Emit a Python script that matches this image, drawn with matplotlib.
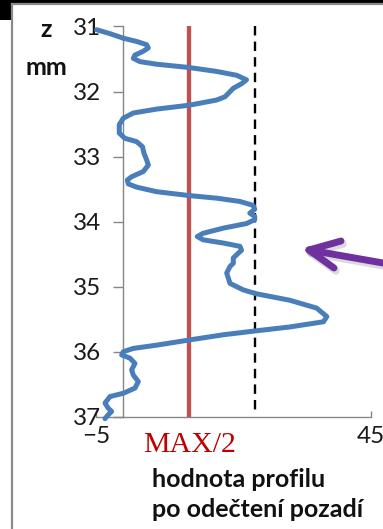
import matplotlib
matplotlib.use("Agg")
import matplotlib.pyplot as plt
from matplotlib.lines import Line2D
from matplotlib.patches import Rectangle
from matplotlib.transforms import blended_transform_factory

plt.rcParams['font.family'] = ['Lato', 'DejaVu Sans']

# profile after background subtraction, sampled along z (mm)
profile = [-4.85, -2.42, 0.0, 2.42, 4.24, 4.55, 3.64, 2.12, 1.82, 3.03, 6.06,
           11.9, 16.9, 20.6, 22.4, 21.5, 20.0, 18.5, 17.0, 13.9, 12.0, 6.06,
           1.82, 0.0, -0.73, -0.73, 0.3, 2.42, 3.5, 3.76, 4.24, 4.55, 3.64,
           1.52, 0.73, 0.9, 2.42, 6.06, 12.0, 17.0, 21.2, 23.6, 23.9, 23.0,
           23.9, 23.9, 22.4, 18.2, 14.5, 13.45, 14.5, 18.2, 21.2, 21.5, 20.6,
           20.0, 20.0, 19.4, 18.8, 19.4, 21.8, 24.2, 30.3, 35.15, 37.0, 36.4,
           30.3, 24.1, 18.2, 12.0, 6.06, 1.82, 0.0, -0.3, 1.21, 2.12, 1.52,
           1.82, 2.73, 2.12, 0.0, -2.42, -3.33, -2.73, -2.12, -2.73, -3.33]
z_mm = [31.05, 31.11, 31.18, 31.23, 31.28, 31.33, 31.38, 31.44, 31.49, 31.54,
        31.58, 31.63, 31.69, 31.75, 31.82, 31.88, 31.95, 32.08, 32.13, 32.18,
        32.21, 32.27, 32.33, 32.41, 32.51, 32.64, 32.72, 32.77, 32.85, 32.95,
        33.05, 33.13, 33.23, 33.31, 33.36, 33.42, 33.47, 33.54, 33.60, 33.64,
        33.69, 33.75, 33.81, 33.87, 33.92, 33.97, 34.03, 34.10, 34.18, 34.23,
        34.28, 34.33, 34.38, 34.44, 34.51, 34.56, 34.64, 34.69, 34.79, 34.95,
        35.05, 35.11, 35.21, 35.33, 35.46, 35.54, 35.62, 35.68, 35.74, 35.82,
        35.90, 35.95, 36.00, 36.05, 36.10, 36.18, 36.28, 36.36, 36.46, 36.56,
        36.64, 36.69, 36.79, 36.87, 36.92, 36.97, 37.03]

half_max = 12
ref_level = 24
z_ticks = [31, 32, 33, 34, 35, 36, 37]
x_ticks = [-5, 45]

W, H = 383, 529
fig = plt.figure(figsize=(W / 100, H / 100), dpi=100)
fig.patch.set_facecolor("white")

# slide frame: dark corner + grey border
fig.add_artist(Rectangle((0, 1 - 3 / H), 1, 3 / H, transform=fig.transFigure,
                         color="black", lw=0))
fig.add_artist(Rectangle((0, 1 - 20 / H), 11 / W, 20 / H, transform=fig.transFigure,
                         color="black", lw=0))
fig.add_artist(Line2D([12 / W, 12 / W], [0, 1 - 4 / H], transform=fig.transFigure,
                      color="#8a8a8a", lw=1.6))
fig.add_artist(Line2D([12 / W, 1], [1 - 4 / H, 1 - 4 / H], transform=fig.transFigure,
                      color="#8a8a8a", lw=1.6))

ax = fig.add_axes([95.8 / W, (H - 416.7) / H, 275 / W, 390.2 / H])
ax.set_xlim(-5, 45)
ax.set_ylim(37, 31)

ax.plot([half_max, half_max], [31, 37], color="#C0504D", lw=3.1, zorder=2)
ax.plot([ref_level, ref_level], [31, 36.94], color="black", lw=1.7,
        linestyle=(0, (4.0, 2.6)), zorder=2)
ax.plot(profile, z_mm, color="#4A7EBB", lw=3.6, solid_joinstyle="round",
        solid_capstyle="round", clip_on=False, zorder=3)

for s in ("top", "right"):
    ax.spines[s].set_visible(False)
ax.spines["left"].set_position(("data", 0))
for s in ("left", "bottom"):
    ax.spines[s].set_color("#868686")
    ax.spines[s].set_linewidth(1.0)

ax.set_yticks(z_ticks)
ax.set_xticks(x_ticks)
ax.tick_params(axis="y", direction="out", length=7.2, width=1.0, color="#868686",
               pad=9.0, labelsize=17.5, labelcolor="#1a1a1a")
ax.tick_params(axis="x", direction="in", length=4, width=1.0, color="#868686",
               pad=6.5, labelsize=17.5, labelcolor="#1a1a1a")

# axis captions
fig.text(46 / W, 1 - 37 / H, "z", ha="center", va="baseline", fontsize=18,
         fontweight="bold", color="#111111")
fig.text(46 / W, 1 - 75 / H, "mm", ha="center", va="baseline", fontsize=18,
         fontweight="bold", color="#111111")

tr = blended_transform_factory(ax.transData, fig.transFigure)
ax.text(half_max, 1 - 452 / H, "MAX/2", transform=tr, ha="center", va="baseline",
        family=["Liberation Serif", "DejaVu Serif"], fontsize=21.5, color="#C00000")

fig.text(152 / W, 1 - 487 / H, "hodnota profilu", ha="left", va="baseline",
         fontsize=18, fontweight="bold", color="#111111")
fig.text(152 / W, 1 - 517 / H, "po odečtení pozadí", ha="left", va="baseline",
         fontsize=18, fontweight="bold", color="#111111")

# purple pointer arrow with a soft shadow
def arrow(dx, dy, color, lw, alpha):
    pts = [((383, 263), (309, 250)), ((309, 250), (341, 241)), ((309, 250), (334, 268))]
    for (x0, y0), (x1, y1) in pts:
        fig.add_artist(Line2D([(x0 + dx) / W, (x1 + dx) / W],
                              [1 - (y0 + dy) / H, 1 - (y1 + dy) / H],
                              transform=fig.transFigure, color=color, lw=lw,
                              alpha=alpha, solid_capstyle="round"))

arrow(2, 3, "#9a9a9a", 5.5, 0.35)
arrow(0, 0, "#7030A0", 5.0, 1.0)

fig.savefig("out.png", dpi=100)
